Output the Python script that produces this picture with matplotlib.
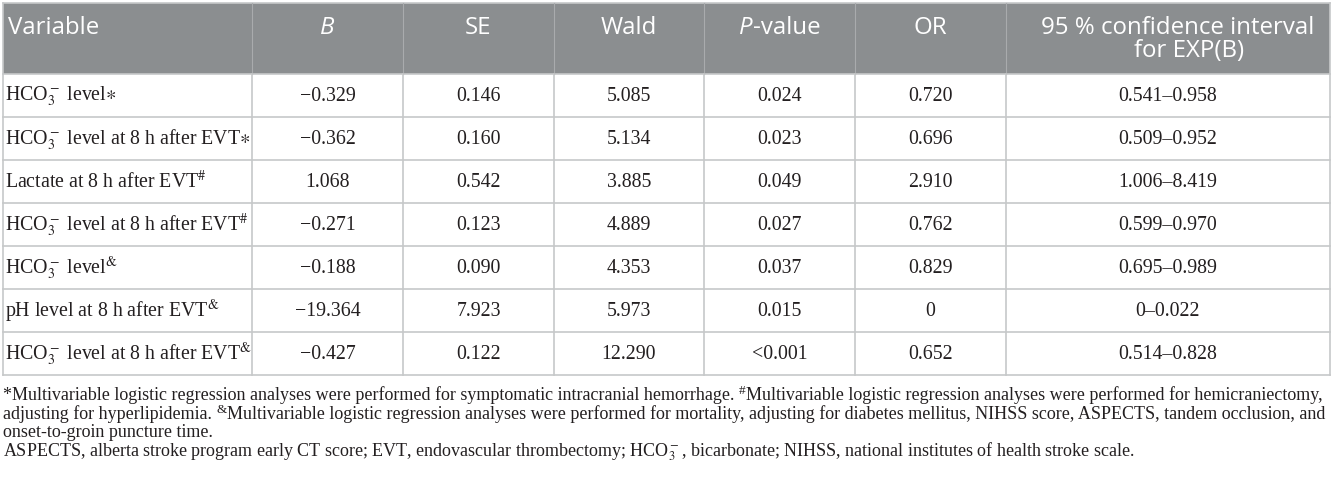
import matplotlib
matplotlib.use("Agg")
import matplotlib.pyplot as plt
from matplotlib.patches import Rectangle

plt.rcParams['mathtext.fontset'] = 'stix'

headers = ["Variable", "B", "SE", "Wald", "P-value", "OR", "95 % confidence interval\nfor EXP(B)"]
variables = [r"HCO$_3^-$ level$\ast$",
             r"HCO$_3^-$ level at 8 h after EVT$\ast$",
             r"Lactate at 8 h after EVT$^{\#}$",
             r"HCO$_3^-$ level at 8 h after EVT$^{\#}$",
             r"HCO$_3^-$ level$^{&}$",
             r"pH level at 8 h after EVT$^{&}$",
             r"HCO$_3^-$ level at 8 h after EVT$^{&}$"]
B = ["\u22120.329", "\u22120.362", "1.068", "\u22120.271", "\u22120.188", "\u221219.364", "\u22120.427"]
SE = ["0.146", "0.160", "0.542", "0.123", "0.090", "7.923", "0.122"]
Wald = ["5.085", "5.134", "3.885", "4.889", "4.353", "5.973", "12.290"]
Pval = ["0.024", "0.023", "0.049", "0.027", "0.037", "0.015", "<0.001"]
OR = ["0.720", "0.696", "2.910", "0.762", "0.829", "0", "0.652"]
CI = ["0.541\u20130.958", "0.509\u20130.952", "1.006\u20138.419", "0.599\u20130.970",
      "0.695\u20130.989", "0\u20130.022", "0.514\u20130.828"]
# footnotes as runs: (text, is_superscript)
footnotes = [
    [("*Multivariable logistic regression analyses were performed for symptomatic intracranial hemorrhage. ", False),
     ("#", True),
     ("Multivariable logistic regression analyses were performed for hemicraniectomy,", False)],
    [("adjusting for hyperlipidemia. ", False),
     ("&", True),
     ("Multivariable logistic regression analyses were performed for mortality, adjusting for diabetes mellitus, NIHSS score, ASPECTS, tandem occlusion, and", False)],
    [("onset-to-groin puncture time.", False)],
    [(r"ASPECTS, alberta stroke program early CT score; EVT, endovascular thrombectomy; HCO$_3^-$, bicarbonate; NIHSS, national institutes of health stroke scale.", False)],
]

W, H = 1333, 482
fig = plt.figure(figsize=(W / 100, H / 100), dpi=100)
ax = fig.add_axes([0, 0, 1, 1])
ax.set_xlim(0, W)
ax.set_ylim(H, 0)
ax.axis('off')

col_x = [3, 252, 403, 554, 704, 855, 1006, 1330]
header_top, header_bot = 3, 74
row_h = 43
n = len(variables)
table_bot = header_bot + n * row_h

hdr_col = '#8b8e90'
grid_col = '#c6c8c9'
txt_col = '#231f20'
serif = ['Liberation Serif', 'DejaVu Serif']
sans = ['Open Sans', 'DejaVu Sans']

ax.add_patch(Rectangle((col_x[0], header_top), col_x[-1] - col_x[0], header_bot - header_top,
                       facecolor=hdr_col, edgecolor='none'))
ax.plot([col_x[0], col_x[-1]], [header_top, header_top], color=grid_col, lw=1.2)
for i in range(n + 1):
    y = header_bot + i * row_h
    ax.plot([col_x[0], col_x[-1]], [y, y], color=grid_col, lw=1.2)
for j, x in enumerate(col_x):
    if j == 0 or j == len(col_x) - 1:
        ax.plot([x, x], [header_top, table_bot], color=grid_col, lw=1.2)
    else:
        ax.plot([x, x], [header_top, header_bot], color='#a9abad', lw=0.8)
        ax.plot([x, x], [header_bot, table_bot], color=grid_col, lw=1.2)

fig.canvas.draw()
r = fig.canvas.get_renderer()

hfs = 17.3
hy = 28
ax.text(col_x[0] + 5, hy, headers[0], color='white', fontsize=hfs, family=sans, ha='left', va='center')
centers = [(col_x[j] + col_x[j + 1]) / 2 for j in range(len(col_x) - 1)]
ax.text(centers[1], hy, headers[1], color='white', fontsize=hfs, family=sans, ha='center', va='center', style='italic')
ax.text(centers[2], hy, headers[2], color='white', fontsize=hfs, family=sans, ha='center', va='center')
ax.text(centers[3], hy, headers[3], color='white', fontsize=hfs, family=sans, ha='center', va='center')
tp = ax.text(0, hy, "P", color='white', fontsize=hfs, family=sans, ha='left', va='center', style='italic')
tv = ax.text(0, hy, "-value", color='white', fontsize=hfs, family=sans, ha='left', va='center')
wp = tp.get_window_extent(r).width
wv = tv.get_window_extent(r).width
x0 = centers[4] - (wp + wv) / 2
tp.set_x(x0)
tv.set_x(x0 + wp + 1)
ax.text(centers[5], hy, headers[5], color='white', fontsize=hfs, family=sans, ha='center', va='center')
ci_lines = headers[6].split("\n")
ax.text(1178, hy, ci_lines[0], color='white', fontsize=hfs, family=sans, ha='center', va='center')
ax.text(1189, 51, ci_lines[1], color='white', fontsize=hfs, family=sans, ha='center', va='center')

bfs = 14.3
cols = [B, SE, Wald, Pval, OR, CI]
for i in range(n):
    yc = header_bot + i * row_h + row_h / 2 + 1
    ax.text(col_x[0] + 2, yc, variables[i], color=txt_col, fontsize=bfs, family=serif, ha='left', va='center')
    for j, col in enumerate(cols):
        ax.text(centers[j + 1], yc, col[i], color=txt_col, fontsize=bfs, family=serif, ha='center', va='center')

ffs = 12.95
fy = [400, 418.7, 437.4, 456]
for k, runs in enumerate(footnotes):
    x = 3.0
    for txt, sup in runs:
        if sup:
            t = ax.text(x, fy[k] - 5.5, txt, color=txt_col, fontsize=ffs * 0.74, family=serif,
                        ha='left', va='baseline')
        else:
            t = ax.text(x, fy[k], txt, color=txt_col, fontsize=ffs, family=serif,
                        ha='left', va='baseline')
        x += t.get_window_extent(r).width + (0.5 if sup else 0)

fig.savefig("out.png", dpi=100, facecolor='white')
